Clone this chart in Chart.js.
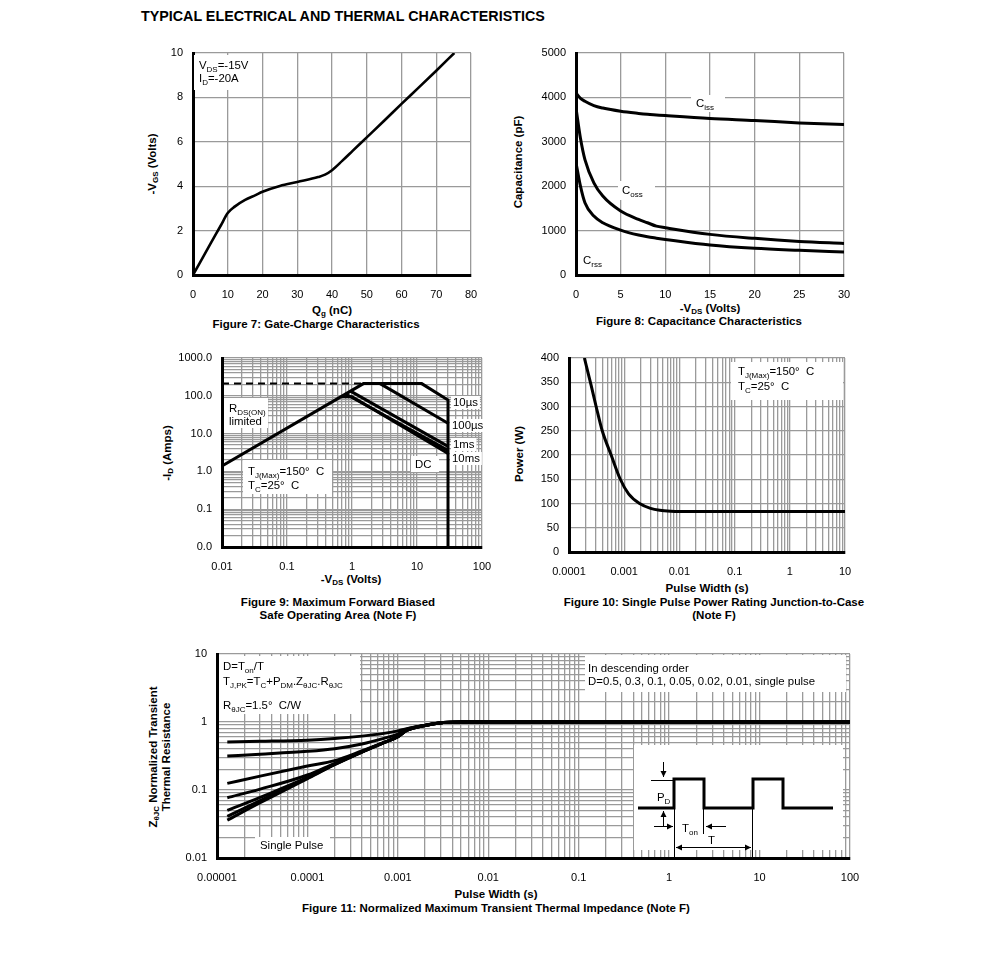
<!DOCTYPE html>
<html><head><meta charset="utf-8">
<script src="https://cdn.jsdelivr.net/npm/chart.js@4.4.1/dist/chart.umd.min.js"></script>
<style>
body{margin:0;background:#fff;width:991px;height:974px;position:relative;overflow:hidden;font-family:'Liberation Sans',Arial,Helvetica,sans-serif;color:#000}
.w{position:absolute}
.t{position:absolute;white-space:nowrap;font-size:11.5px;font-weight:bold;line-height:13px}
.c{transform:translateX(-50%);text-align:center}
.r{transform:translate(-50%,-50%) rotate(-90deg);text-align:center}
sub{font-size:8px;vertical-align:-2px;line-height:0}
</style></head><body>
<div class="t" style="left:141px;top:10px;font-size:14.3px">TYPICAL ELECTRICAL AND THERMAL CHARACTERISTICS</div>
<div class="t c" style="left:332px;top:304px">Q<sub>g</sub> (nC)</div>
<div class="t c" style="left:316px;top:318px">Figure 7: Gate-Charge Characteristics</div>
<div class="t r" style="left:152px;top:164px">-V<sub>GS</sub> (Volts)</div>
<div class="t c" style="left:710px;top:302px">-V<sub>DS</sub> (Volts)</div>
<div class="t c" style="left:699px;top:315px">Figure 8: Capacitance Characteristics</div>
<div class="t r" style="left:518px;top:162px">Capacitance (pF)</div>
<div class="t c" style="left:351px;top:573px">-V<sub>DS</sub> (Volts)</div>
<div class="t r" style="left:167px;top:453px">-I<sub>D</sub> (Amps)</div>
<div class="t c" style="left:338px;top:596px">Figure 9: Maximum Forward Biased<br>Safe Operating Area (Note F)</div>
<div class="t c" style="left:707px;top:582px">Pulse Width (s)</div>
<div class="t r" style="left:519px;top:454px">Power (W)</div>
<div class="t c" style="left:714px;top:596px">Figure 10: Single Pulse Power Rating Junction-to-Case<br>(Note F)</div>
<div class="t c" style="left:496px;top:888px">Pulse Width (s)</div>
<div class="t c" style="left:496px;top:902px">Figure 11: Normalized Maximum Transient Thermal Impedance (Note F)</div>
<div class="t r" style="left:160px;top:757px">Z<sub>θJC</sub> Normalized Transient<br>Thermal Resistance</div>
<script>
// ---------- Figure 7: gate charge ----------
const gcQg  = [0, 2, 5, 8, 10, 12, 15, 18, 20, 25, 30, 36, 38, 40, 43, 46, 50, 55, 60, 65, 70, 75.2];
const gcVgs = [0, 0.56, 1.4, 2.23, 2.79, 3.08, 3.38, 3.6, 3.75, 4.01, 4.19, 4.41, 4.52, 4.72, 5.15, 5.6, 6.2, 6.95, 7.71, 8.45, 9.2, 10];

// ---------- Figure 8: capacitance ----------
const capVds = [0, 0.5, 1, 2, 3, 5, 7, 8, 9, 10, 15, 20, 25, 30];
const capCiss = [4100, 3980, 3913, 3815, 3760, 3688, 3640, 3620, 3605, 3590, 3523, 3478, 3426, 3388];
const capCoss = [3760, 3080, 2600, 2076, 1777, 1440, 1252, 1177, 1100, 1065, 915, 825, 757, 712];
const capCrss = [2530, 2000, 1627, 1327, 1177, 1012, 900, 860, 830, 802, 675, 600, 555, 517];

// ---------- Figure 9: safe operating area ----------
const soaDashV = [0.01, 1.5];      const soaDashI = [210, 210];
const soa10usV = [0.01, 1.5, 11.8, 30, 30];  const soa10usI = [1.4, 210, 210, 77, 0.01];
const soa100usV = [1.5, 2.7, 30];  const soa100usI = [210, 210, 18.7];
const soa1msV = [0.95, 30];        const soa1msI = [133, 4.6];
const soa10msV = [0.8, 30];        const soa10msI = [112, 3.6];
const soaDcV = [0.68, 1.0, 30];    const soaDcI = [95, 95, 3.0];
const soaXTickVals = [0.01, 0.1, 1, 10, 100];
const soaXTickLabels = ['0.01', '0.1', '1', '10', '100'];
const soaYTickVals = [0.01, 0.1, 1, 10, 100, 1000];
const soaYTickLabels = ['0.0', '0.1', '1.0', '10.0', '100.0', '1000.0'];

// ---------- Figure 10: single pulse power ----------
const pwrT = [1.9e-4, 2.5e-4, 3.1e-4, 4e-4, 5.8e-4, 8.5e-4, 1.2e-3, 1.9e-3, 3e-3, 4.4e-3, 7e-3, 0.01, 10];
const pwrP = [400, 345, 300, 250, 200, 150, 120, 100, 90, 86, 84, 83.5, 83.5];
const pwrXTickVals = [1e-4, 1e-3, 1e-2, 0.1, 1, 10];
const pwrXTickLabels = ['0.0001', '0.001', '0.01', '0.1', '1', '10'];

// ---------- Figure 11: transient thermal impedance ----------
const zthT   = [1.3e-5, 3e-5, 1e-4, 2e-4, 4e-4, 7e-4, 1e-3, 1.25e-3, 2e-3, 3.2e-3, 5e-3, 1e-2, 100];
const zthD05 = [0.51, 0.52, 0.54, 0.57, 0.62, 0.68, 0.74, 0.80, 0.90, 0.98, 1, 1, 1];
const zthD03 = [0.315, 0.335, 0.37, 0.405, 0.475, 0.575, 0.665, 0.78, 0.89, 0.98, 1, 1, 1];
const zthD01 = [0.125, 0.16, 0.225, 0.27, 0.375, 0.5, 0.61, 0.76, 0.89, 0.98, 1, 1, 1];
const zthD005 = [0.077, 0.103, 0.166, 0.247, 0.365, 0.497, 0.609, 0.755, 0.89, 0.98, 1, 1, 1];
const zthD002 = [0.050, 0.078, 0.153, 0.241, 0.363, 0.497, 0.609, 0.75, 0.89, 0.98, 1, 1, 1];
const zthD001 = [0.041, 0.070, 0.149, 0.238, 0.362, 0.497, 0.609, 0.75, 0.89, 0.98, 1, 1, 1];
const zthSingle = [0.036, 0.065, 0.147, 0.236, 0.362, 0.497, 0.609, 0.75, 0.89, 0.98, 1, 1, 1];
const zthXTickVals = [1e-5, 1e-4, 1e-3, 1e-2, 0.1, 1, 10, 100];
const zthXTickLabels = ['0.00001', '0.0001', '0.001', '0.01', '0.1', '1', '10', '100'];
const zthYTickVals = [0.01, 0.1, 1, 10];
const zthYTickLabels = ['0.01', '0.1', '1', '10'];

// ---------- helpers ----------
const FF = "'Liberation Sans', Arial, Helvetica, sans-serif";
const GRID = '#9a9a9a';
const TS = 11.4; // annotation text size
const pts = (xs, ys) => xs.map((x, i) => ({x, y: ys[i]}));
const line = (xs, ys, extra) => Object.assign({data: pts(xs, ys), borderColor: '#000', borderWidth: 3, pointRadius: 0, fill: false, tension: 0}, extra || {});
const smooth = {cubicInterpolationMode: 'monotone'};

function logGrid(min, max) {
  const out = [];
  for (let e = Math.round(Math.log10(min)); e < Math.round(Math.log10(max)); e++)
    for (let m = 1; m < 10; m++) out.push(m * Math.pow(10, e));
  out.push(max);
  return out;
}
function lab(v, vals, labels) {
  for (let i = 0; i < vals.length; i++) if (Math.abs(Math.log10(v) - Math.log10(vals[i])) < 1e-6) return labels[i];
  return '';
}
function baseScale(isX) {
  return {
    ticks: {color: '#000', font: {size: 11, family: FF}, padding: isX ? 13 : 10, autoSkip: false, maxRotation: 0},
    grid: {color: GRID, lineWidth: 1.3, drawTicks: false},
    border: {color: '#000', width: 3}
  };
}
function linScale(isX, min, max, step) {
  const s = baseScale(isX);
  s.type = 'linear'; s.min = min; s.max = max; s.ticks.stepSize = step;
  s.ticks.callback = v => String(v);
  return s;
}
function logScale(isX, min, max, vals, labels) {
  const s = baseScale(isX);
  s.type = 'logarithmic'; s.min = min; s.max = max;
  s.afterBuildTicks = sc => { sc.ticks = logGrid(min, max).map(v => ({value: v})); };
  s.ticks.callback = v => lab(v, vals, labels);
  return s;
}
function rich(ctx, x, y, parts, size) {
  size = size || TS;
  ctx.fillStyle = '#000'; ctx.textAlign = 'left'; ctx.textBaseline = 'alphabetic';
  let cx = x;
  for (const p of parts) {
    const sub = Array.isArray(p);
    const t = sub ? p[0] : p;
    ctx.font = (sub ? Math.round(size * 0.72) : size) + 'px ' + FF;
    ctx.fillText(t, cx, sub ? y + 2.5 : y);
    cx += ctx.measureText(t).width;
  }
  return cx - x;
}
function richWidth(ctx, parts, size) {
  size = size || TS; let w = 0;
  for (const p of parts) {
    const sub = Array.isArray(p); const t = sub ? p[0] : p;
    ctx.font = (sub ? Math.round(size * 0.72) : size) + 'px ' + FF;
    w += ctx.measureText(t).width;
  }
  return w;
}
function wbox(ctx, x, y, w, h) { ctx.fillStyle = '#fff'; ctx.fillRect(x, y, w, h); }
function bgLabel(ctx, x, y, parts) {
  const w = richWidth(ctx, parts);
  wbox(ctx, x - 2, y - 10, w + 4, 13);
  rich(ctx, x, y, parts);
}
function arrow(ctx, x1, y1, x2, y2, both) {
  ctx.strokeStyle = '#000'; ctx.fillStyle = '#000'; ctx.lineWidth = 1;
  ctx.beginPath(); ctx.moveTo(x1, y1); ctx.lineTo(x2, y2); ctx.stroke();
  const head = (ax, ay, bx, by) => {
    const a = Math.atan2(by - ay, bx - ax), L = 6, H = 3;
    ctx.beginPath(); ctx.moveTo(bx, by);
    ctx.lineTo(bx - L * Math.cos(a) + H * Math.sin(a), by - L * Math.sin(a) - H * Math.cos(a));
    ctx.lineTo(bx - L * Math.cos(a) - H * Math.sin(a), by - L * Math.sin(a) + H * Math.cos(a));
    ctx.closePath(); ctx.fill();
  };
  head(x1, y1, x2, y2);
  if (both) head(x2, y2, x1, y1);
}

function makeChart(box, xScale, yScale, datasets, annot) {
  const [l, t, r, b] = box;
  const PL = 70, PT = 20, PR = 30, PB = 30;
  const wrap = document.createElement('div');
  wrap.className = 'w';
  wrap.style.left = (l - PL) + 'px'; wrap.style.top = (t - PT) + 'px';
  wrap.style.width = (r - l + PL + PR) + 'px'; wrap.style.height = (b - t + PT + PB) + 'px';
  const cv = document.createElement('canvas');
  wrap.appendChild(cv); document.body.appendChild(wrap);
  xScale.afterFit = s => { s.height = PB; };
  yScale.afterFit = s => { s.width = PL; };
  return new Chart(cv, {
    type: 'line',
    data: {datasets},
    options: {
      responsive: true, maintainAspectRatio: false, animation: false,
      layout: {padding: {left: 0, top: PT, right: PR, bottom: 0}},
      plugins: {legend: {display: false}, tooltip: {enabled: false}},
      scales: {x: xScale, y: yScale}
    },
    plugins: [{
      id: 'ann',
      beforeDatasetsDraw(chart) {
        if (!annot) return;
        const ctx = chart.ctx; ctx.save();
        ctx.translate(chart.chartArea.left - l, chart.chartArea.top - t);
        annot(ctx); ctx.restore();
      }
    }]
  });
}

// ---------- Figure 7 ----------
makeChart([193, 53, 471, 275], linScale(true, 0, 80, 10), linScale(false, 0, 10, 2),
  [line(gcQg, gcVgs, Object.assign({borderWidth: 2.6}, smooth))],
  ctx => {
    wbox(ctx, 194, 55, 64, 35);
    rich(ctx, 199, 69, ['V', ['DS'], '=-15V']);
    rich(ctx, 199, 82, ['I', ['D'], '=-20A']);
  });

// ---------- Figure 8 ----------
makeChart([576, 53, 844, 275], linScale(true, 0, 30, 5), linScale(false, 0, 5000, 1000),
  [line(capVds, capCiss, smooth), line(capVds, capCoss, smooth), line(capVds, capCrss, smooth)],
  ctx => {
    wbox(ctx, 691, 95, 34, 17); rich(ctx, 696, 107, ['C', ['iss']]);
    wbox(ctx, 618, 181, 37, 19); rich(ctx, 622, 194, ['C', ['oss']]);
    wbox(ctx, 579, 252, 28, 16); rich(ctx, 583, 264, ['C', ['rss']]);
  });

// ---------- Figure 9 ----------
makeChart([222, 358, 482, 547],
  logScale(true, 0.01, 100, soaXTickVals, soaXTickLabels),
  logScale(false, 0.01, 1000, soaYTickVals, soaYTickLabels),
  [line(soaDashV, soaDashI, {borderWidth: 2, borderDash: [7, 5]}),
   line(soa10usV, soa10usI), line(soa100usV, soa100usI),
   line(soa1msV, soa1msI), line(soa10msV, soa10msI), line(soaDcV, soaDcI)],
  ctx => {
    wbox(ctx, 224, 398, 44, 30);
    rich(ctx, 229, 412, ['R', ['DS(ON)']]);
    rich(ctx, 229, 425, ['limited']);
    wbox(ctx, 243, 460, 89, 34);
    rich(ctx, 248, 475, ['T', ['J(Max)'], '=150°  C']);
    rich(ctx, 248, 489, ['T', ['C'], '=25°  C']);
    wbox(ctx, 411, 456, 28, 16); rich(ctx, 415, 468, ['DC']);
    bgLabel(ctx, 453, 406, ['10µs']);
    bgLabel(ctx, 452, 429, ['100µs']);
    bgLabel(ctx, 453, 448, ['1ms']);
    bgLabel(ctx, 452, 462, ['10ms']);
  });

// ---------- Figure 10 ----------
makeChart([569, 358, 845, 552],
  logScale(true, 1e-4, 10, pwrXTickVals, pwrXTickLabels),
  linScale(false, 0, 400, 50),
  [line(pwrT, pwrP, smooth)],
  ctx => {
    wbox(ctx, 731, 362, 112, 38);
    rich(ctx, 738, 375, ['T', ['J(Max)'], '=150°  C']);
    rich(ctx, 738, 390, ['T', ['C'], '=25°  C']);
  });

// ---------- Figure 11 ----------
makeChart([217, 654, 850, 858],
  logScale(true, 1e-5, 100, zthXTickVals, zthXTickLabels),
  logScale(false, 0.01, 10, zthYTickVals, zthYTickLabels),
  [zthD05, zthD03, zthD01, zthD005, zthD002, zthD001, zthSingle].map(ys => line(zthT, ys, smooth)),
  ctx => {
    wbox(ctx, 219, 656, 141, 58);
    rich(ctx, 223, 670, ['D=T', ['on'], '/T']);
    rich(ctx, 223, 685, ['T', ['J,PK'], '=T', ['C'], '+P', ['DM'], '.Z', ['θJC'], '.R', ['θJC']]);
    rich(ctx, 223, 709, ['R', ['θJC'], '=1.5°  C/W']);
    wbox(ctx, 585, 655, 261, 37);
    rich(ctx, 588, 672, ['In descending order']);
    rich(ctx, 588, 685, ['D=0.5, 0.3, 0.1, 0.05, 0.02, 0.01, single pulse']);
    wbox(ctx, 255, 837, 75, 20);
    rich(ctx, 260, 849, ['Single Pulse']);
    // inset pulse diagram
    wbox(ctx, 634, 745, 209, 105);
    ctx.strokeStyle = '#000'; ctx.lineWidth = 3; ctx.lineJoin = 'miter';
    ctx.beginPath();
    ctx.moveTo(638, 808); ctx.lineTo(674, 808); ctx.lineTo(674, 779); ctx.lineTo(704, 779);
    ctx.lineTo(704, 808); ctx.lineTo(753, 808); ctx.lineTo(753, 779); ctx.lineTo(783, 779);
    ctx.lineTo(783, 808); ctx.lineTo(833, 808);
    ctx.stroke();
    ctx.lineWidth = 1;
    ctx.beginPath();
    ctx.moveTo(651, 780.5); ctx.lineTo(673, 780.5);
    ctx.moveTo(674.5, 809); ctx.lineTo(674.5, 857);
    ctx.moveTo(703.5, 809); ctx.lineTo(703.5, 834);
    ctx.moveTo(752.5, 809); ctx.lineTo(752.5, 857);
    ctx.stroke();
    arrow(ctx, 663.5, 762, 663.5, 777);
    arrow(ctx, 663.5, 827, 663.5, 811);
    arrow(ctx, 654, 826.5, 673, 826.5);
    arrow(ctx, 726, 826.5, 706, 826.5);
    arrow(ctx, 676, 847.5, 751, 847.5, true);
    rich(ctx, 657, 801, ['P', ['D']]);
    rich(ctx, 682, 832, ['T', ['on']]);
    rich(ctx, 708, 844, ['T']);
  });
</script>
</body></html>
